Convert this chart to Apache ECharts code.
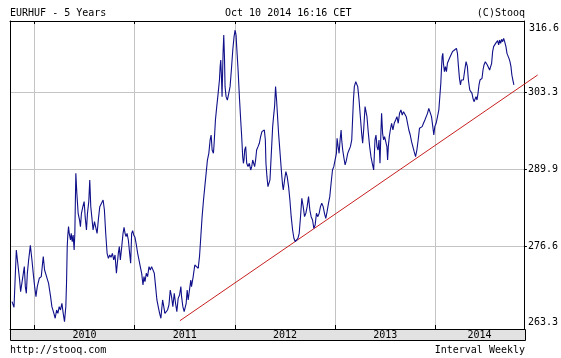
<!DOCTYPE html>
<html>
<head>
<meta charset="utf-8">
<script src="https://cdn.jsdelivr.net/npm/echarts@6/dist/echarts.min.js"></script>
<style>
html,body{margin:0;padding:0;background:#fff;}
#c{width:561px;height:358px;}
</style>
</head>
<body>
<div id="c"></div>
<script>
// ---- data (decimal year of weekly close, EURHUF close) ----
const dates = [
2009.776,2009.796,2009.819,2009.836,2009.852,2009.862,2009.876,2009.889,2009.899,2009.909,2009.919,2009.929,2009.942,2009.959,2009.975,2009.988,2010.002,2010.015,2010.028,2010.048,2010.068,2010.081,2010.088,2010.101,2010.121,2010.141,2010.161,2010.174,2010.194,2010.207,2010.221,2010.234,2010.247,2010.260,2010.274,2010.287,2010.300,2010.313,2010.320,2010.327,2010.333,2010.340,2010.347,2010.360,2010.367,2010.377,2010.386,2010.396,2010.403,2010.413,2010.423,2010.436,2010.450,2010.459,2010.469,2010.483,2010.496,2010.506,2010.519,2010.529,2010.542,2010.552,2010.562,2010.572,2010.585,2010.599,2010.612,2010.625,2010.639,
2010.652,2010.685,2010.698,2010.711,2010.725,2010.738,2010.751,2010.764,2010.778,2010.791,2010.804,2010.818,2010.827,2010.837,2010.847,2010.857,2010.871,2010.884,2010.894,2010.904,2010.914,2010.924,2010.937,2010.950,2010.960,2010.970,2010.980,2010.990,2011.003,2011.017,2011.030,2011.043,2011.056,2011.070,2011.083,2011.093,2011.103,2011.116,2011.129,2011.143,2011.156,2011.169,2011.182,2011.196,2011.209,2011.222,2011.235,2011.249,2011.262,2011.269,2011.279,2011.289,2011.302,2011.315,2011.328,2011.342,2011.355,2011.368,2011.381,2011.395,2011.408,2011.421,2011.434,2011.448,2011.461,2011.468,2011.481,2011.494,2011.507,2011.514,2011.524,2011.534,2011.547,2011.560,
2011.567,2011.584,2011.600,2011.617,2011.634,2011.647,2011.660,2011.673,2011.687,2011.700,2011.713,2011.726,2011.740,2011.753,2011.763,2011.773,2011.786,2011.793,2011.806,2011.819,2011.833,2011.846,2011.853,2011.859,2011.866,2011.872,2011.882,2011.889,2011.896,2011.902,2011.912,2011.925,2011.939,2011.952,2011.965,2011.979,2011.992,2012.002,2012.012,2012.018,2012.032,2012.045,2012.058,2012.068,2012.078,2012.085,2012.091,2012.098,2012.108,2012.118,2012.131,2012.144,2012.158,2012.168,2012.178,2012.188,2012.197,2012.207,2012.217,2012.231,2012.244,2012.257,2012.270,2012.284,2012.294,2012.304,2012.310,2012.320,2012.330,2012.340,2012.350,2012.357,2012.367,2012.377,2012.386,2012.396,2012.406,2012.416,2012.426,2012.436,2012.446,2012.456,2012.466,2012.476,
2012.483,2012.496,2012.509,2012.522,2012.536,2012.549,2012.562,2012.576,2012.589,2012.602,2012.615,2012.629,2012.642,2012.655,2012.668,2012.682,2012.695,2012.708,2012.721,2012.735,2012.748,2012.761,2012.775,2012.788,2012.801,2012.814,2012.828,2012.841,2012.854,2012.867,2012.881,2012.894,2012.907,2012.920,2012.934,2012.947,2012.960,2012.974,2012.987,2013.000,2013.013,2013.020,2013.030,2013.040,2013.050,2013.060,2013.066,2013.076,2013.086,2013.100,2013.113,2013.126,2013.139,2013.153,2013.166,2013.173,2013.183,2013.192,2013.206,2013.216,2013.226,2013.239,2013.252,2013.265,2013.275,2013.285,2013.299,2013.309,2013.318,2013.332,2013.345,2013.358,2013.371,2013.385,
2013.398,2013.408,2013.418,2013.428,2013.438,2013.448,2013.458,2013.464,2013.474,2013.484,2013.494,2013.504,2013.517,2013.524,2013.531,2013.541,2013.551,2013.564,2013.577,2013.590,2013.604,2013.617,2013.630,2013.643,2013.657,2013.670,2013.683,2013.697,2013.710,2013.723,2013.736,2013.750,2013.763,2013.776,2013.789,2013.803,2013.816,2013.829,2013.842,2013.856,2013.869,2013.882,2013.896,2013.909,2013.922,2013.935,2013.949,2013.962,2013.975,2013.985,2013.995,2014.008,2014.022,2014.035,2014.045,2014.055,2014.061,2014.068,2014.075,2014.081,2014.091,2014.101,2014.111,2014.121,2014.134,2014.148,2014.161,2014.171,2014.181,2014.191,2014.201,2014.211,2014.221,2014.231,2014.241,2014.251,2014.260,2014.270,2014.280,2014.294,2014.307,2014.320,2014.330,2014.344,
2014.347,2014.357,2014.366,2014.376,2014.386,2014.396,2014.406,2014.416,2014.426,2014.436,2014.446,2014.456,2014.466,2014.476,2014.486,2014.499,2014.509,2014.519,2014.532,2014.542,2014.552,2014.562,2014.572,2014.582,2014.592,2014.602,2014.612,2014.622,2014.632,2014.642,2014.652,2014.662,2014.672,2014.682,2014.692,2014.698,2014.705,2014.715,2014.725,2014.735,2014.745,2014.755,2014.764,2014.774,2014.784
];
const closes = [
266.98,265.99,275.94,275.65,270.74,268.71,268.89,271.89,273.05,269.58,268.42,271.89,274.21,276.75,274.21,271.89,269.58,267.84,269.58,271.03,271.32,273.63,274.78,272.47,271.32,270.16,267.84,266.11,264.95,264.09,265.53,264.95,266.11,265.53,266.69,264.95,263.51,266.11,270.16,276.52,278.54,279.99,278.83,277.67,278.83,277.39,278.54,275.94,278.83,289.24,285.77,282.30,281.14,279.99,282.30,283.46,284.33,281.72,279.41,282.30,284.33,288.09,283.46,281.72,279.41,280.86,280.57,278.83,281.43,
283.46,284.62,282.88,278.83,275.36,274.49,275.07,274.67,275.36,274.21,275.07,271.89,273.63,275.36,276.52,274.21,276.52,278.83,279.87,278.83,278.25,278.83,277.67,275.36,273.63,278.83,279.29,278.54,278.14,276.81,275.36,274.21,273.05,271.89,269.87,271.32,270.45,271.89,271.32,273.05,272.47,273.05,272.76,271.89,269.58,267.27,266.11,264.95,264.09,265.53,267.27,267.55,264.95,264.67,265.53,266.40,269.00,267.84,266.11,268.42,266.69,265.24,267.55,268.13,269.58,267.84,266.11,265.24,264.95,266.69,269.00,267.27,269.00,270.74,
269.58,271.32,273.34,273.63,272.76,274.78,278.25,281.72,284.62,286.93,289.24,291.55,292.71,295.03,295.89,293.29,292.71,294.45,298.49,300.81,303.12,305.43,307.75,308.90,306.01,302.54,310.06,313.24,309.48,304.28,302.54,301.96,303.12,304.28,307.17,310.64,312.95,314.11,313.24,311.22,307.17,302.54,298.49,295.60,292.13,290.98,291.55,293.29,293.87,290.98,290.40,290.98,289.82,290.40,291.55,290.98,290.40,291.55,293.29,293.87,294.45,295.60,296.47,296.76,296.76,295.03,290.98,288.66,286.93,286.64,288.09,290.40,293.87,297.34,299.07,300.81,304.28,301.96,299.07,296.18,293.87,291.55,289.24,287.22,
286.35,288.09,289.53,288.66,286.93,284.62,281.72,279.41,277.97,277.39,277.67,277.97,278.83,281.72,284.90,283.46,281.72,282.30,283.46,285.19,282.88,281.72,281.14,279.70,280.28,282.30,281.72,282.30,283.46,284.04,283.46,282.30,281.43,282.59,284.04,285.19,287.51,289.82,290.40,290.40,292.71,295.31,293.87,292.71,295.03,296.76,295.03,293.29,292.13,290.69,291.55,292.71,293.29,293.87,295.03,297.92,301.96,304.28,305.14,305.43,304.28,301.96,299.07,296.18,294.45,296.76,300.81,301.10,299.07,296.18,293.87,292.13,290.98,289.82,
295.03,295.89,293.87,293.29,295.03,290.98,296.76,299.65,296.18,295.03,295.60,295.31,293.87,291.55,293.87,295.60,296.76,297.92,296.76,297.92,298.49,299.07,297.92,299.65,300.23,299.36,299.94,299.65,299.07,297.92,296.76,295.89,294.74,293.87,293.00,292.13,293.29,295.03,297.05,296.76,297.34,297.92,298.49,299.07,299.65,300.52,300.81,299.07,297.34,295.89,297.34,297.92,299.07,300.23,302.54,304.86,307.17,309.48,310.06,308.33,306.88,307.75,306.88,308.33,308.90,309.48,309.77,310.35,310.06,310.64,310.35,310.93,310.06,307.75,305.72,304.57,305.43,305.14,305.43,307.17,308.61,307.75,305.43,303.70,
303.99,303.70,303.12,302.25,301.67,301.96,302.54,301.96,303.12,304.57,305.43,305.14,305.72,307.17,308.04,308.61,308.33,308.04,307.75,307.17,306.88,308.33,310.35,311.22,310.93,311.79,311.51,312.26,311.51,312.37,311.79,312.49,312.08,312.66,312.08,312.37,311.22,310.06,310.35,309.19,308.61,307.75,306.30,305.43,304.57
];
// trend line (support) end points: [decimal year, value]
const trendDates = [2011.448, 2015.010];
const trendValues = [263.67, 306.30];
// axis ticks / labels
const yearTicks = [2010, 2011, 2012, 2013, 2014];
const yGridValues = [276.6, 289.9, 303.3];
const yLabelValues = [263.3, 276.6, 289.9, 303.3];
const yTopLabel = 316.6;
const X_MIN = 2009.756, X_MAX = 2014.884;
const Y_MIN = 262.23, Y_MAX = 315.67;

const FONT = 'DejaVu Sans Mono';
const lineData = dates.map((d, i) => [d, closes[i]]);
const trendData = trendDates.map((d, i) => [d, trendValues[i]]);
const xLabelPos = yearTicks.map((y, i) => i < yearTicks.length - 1 ? y + 0.5 : (y + X_MAX) / 2);

const W = 561, H = 358;
const gridLeft = 10, gridRight = 36, gridTop = 21, gridBottom = 29;
const plotRight = W - gridRight;
// the trend line runs a little past the right frame: second, wider grid with the same scale
const trendExtra = 14;
const X_MAX_WIDE = X_MAX + trendExtra * (X_MAX - X_MIN) / (plotRight - gridLeft);

const chart = echarts.init(document.getElementById('c'), null, {renderer: 'canvas'});
chart.setOption({
  animation: false,
  backgroundColor: '#fff',
  grid: [
    {left: gridLeft, right: gridRight, top: gridTop, bottom: gridBottom, containLabel: false},
    {left: gridLeft, right: gridRight - trendExtra, top: gridTop, bottom: gridBottom, containLabel: false}
  ],
  xAxis: [{
    type: 'value', gridIndex: 0, min: X_MIN, max: X_MAX, position: 'bottom',
    axisLine: {show: true, lineStyle: {color: '#000', width: 1}},
    axisTick: {show: true, inside: true, length: 4, customValues: yearTicks, lineStyle: {color: '#000'}},
    splitLine: {show: true, lineStyle: {color: '#c4c4c4', width: 1}},
    axisLabel: {show: true, customValues: xLabelPos, margin: 1,
      formatter: v => String(Math.floor(v)),
      fontFamily: FONT, fontSize: 10, color: '#000'}
  }, {
    type: 'value', gridIndex: 0, min: X_MIN, max: X_MAX, position: 'top',
    axisLine: {show: true, lineStyle: {color: '#000', width: 1}},
    axisTick: {show: true, inside: true, length: 3, customValues: yearTicks, lineStyle: {color: '#000'}},
    splitLine: {show: false}, axisLabel: {show: false}
  }, {
    type: 'value', gridIndex: 1, min: X_MIN, max: X_MAX_WIDE, show: false
  }],
  yAxis: [{
    type: 'value', gridIndex: 0, min: Y_MIN, max: Y_MAX, position: 'right',
    axisLine: {show: true, lineStyle: {color: '#000', width: 1}},
    axisTick: {show: true, inside: false, length: 3, customValues: yGridValues, lineStyle: {color: '#000'}},
    splitLine: {show: true, lineStyle: {color: '#c4c4c4', width: 1}},
    axisLabel: {show: true, customValues: yLabelValues, margin: 4,
      formatter: v => v.toFixed(1), fontFamily: FONT, fontSize: 10, color: '#000'}
  }, {
    type: 'value', gridIndex: 0, min: Y_MIN, max: Y_MAX, position: 'left',
    axisLine: {show: true, lineStyle: {color: '#000', width: 1}},
    axisTick: {show: false}, splitLine: {show: false}, axisLabel: {show: false}
  }, {
    type: 'value', gridIndex: 1, min: Y_MIN, max: Y_MAX, show: false
  }],
  series: [{
    type: 'line', data: lineData, xAxisIndex: 0, yAxisIndex: 0,
    showSymbol: false, symbol: 'none',
    lineStyle: {color: '#10108a', width: 1.1}, z: 3
  }, {
    type: 'line', data: trendData, xAxisIndex: 2, yAxisIndex: 2,
    showSymbol: false, symbol: 'none', clip: false,
    lineStyle: {color: '#c82020', width: 1}, z: 2
  }]
});

const topLabelY = Math.max(chart.convertToPixel({yAxisIndex: 0}, yTopLabel), gridTop + 7);
chart.setOption({
  graphic: [
    {type: 'rect', z: -1, silent: true,
      shape: {x: gridLeft + 0.5, y: H - gridBottom + 0.5, width: plotRight - gridLeft, height: 11},
      style: {fill: '#e2e2e2', stroke: '#000', lineWidth: 1}},
    {type: 'text', left: gridLeft, top: 8, silent: true,
      style: {text: 'EURHUF - 5 Years', font: '10px ' + FONT, fill: '#000'}},
    {type: 'text', left: 225, top: 8, silent: true,
      style: {text: 'Oct 10 2014 16:16 CET', font: '10px ' + FONT, fill: '#000'}},
    {type: 'text', right: W - plotRight, top: 8, silent: true,
      style: {text: '(C)Stooq', font: '10px ' + FONT, fill: '#000'}},
    {type: 'text', left: gridLeft, top: 345, silent: true,
      style: {text: 'http://stooq.com', font: '10px ' + FONT, fill: '#000'}},
    {type: 'text', right: W - plotRight, top: 345, silent: true,
      style: {text: 'Interval Weekly', font: '10px ' + FONT, fill: '#000'}},
    {type: 'text', x: plotRight + 4, y: topLabelY, silent: true,
      style: {text: yTopLabel.toFixed(1), font: '10px ' + FONT, fill: '#000', verticalAlign: 'middle', align: 'left'}}
  ]
});
</script>
</body>
</html>
